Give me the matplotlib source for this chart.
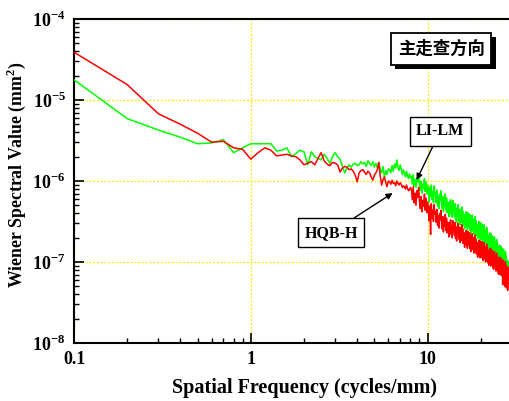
import numpy as np
import matplotlib
matplotlib.use('Agg')
import matplotlib.pyplot as plt
import matplotlib.patheffects as pe
from matplotlib.ticker import FixedLocator, FuncFormatter, LogLocator, NullFormatter

plt.rcParams['font.family'] = ['Liberation Serif', 'DejaVu Serif']
plt.rcParams['mathtext.fontset'] = 'custom'
plt.rcParams['mathtext.rm'] = 'Liberation Serif:bold'
plt.rcParams['mathtext.bf'] = 'Liberation Serif:bold'
plt.rcParams['axes.unicode_minus'] = False

# log10 of Wiener spectral value, sampled every 0.1 cycles/mm starting at 0.1
red_log = [
    -4.41, -4.81, -5.17, -5.30, -5.41, -5.52, -5.51, -5.59, -5.61, -5.73, -5.65, -5.59, -5.62, -5.69,
    -5.68, -5.67, -5.69, -5.70, -5.74, -5.80,
    -5.78, -5.76, -5.80, -5.72, -5.65, -5.75, -5.79, -5.81, -5.77, -5.78,
    -5.80, -5.89, -5.84, -5.82, -5.83, -5.86, -5.85, -5.88, -5.93, -6.01,
    -5.90, -5.87, -5.86, -5.89, -5.92, -5.88, -5.90, -5.95, -5.99, -5.93,
    -5.90, -5.86, -5.77, -5.94, -6.05, -5.98, -5.95, -6.02, -6.07, -6.00,
    -6.01, -6.04, -5.99, -6.03, -6.02, -6.06, -6.00, -6.03, -6.05, -6.02,
    -6.04, -6.08, -6.06, -6.07, -6.10, -6.05, -6.09, -6.12, -6.11, -6.08,
    -6.10, -6.23, -6.07, -6.27, -6.15, -6.30, -6.12, -6.20, -6.08, -6.25,
    -6.34, -6.19, -6.38, -6.24, -6.31, -6.16, -6.36, -6.21, -6.39, -6.26,
    -6.33, -6.49, -6.31, -6.66, -6.28, -6.46, -6.36, -6.50, -6.29, -6.41,
    -6.38, -6.51, -6.35, -6.55, -6.43, -6.58, -6.40, -6.48, -6.36, -6.53,
    -6.59, -6.44, -6.63, -6.49, -6.56, -6.41, -6.61, -6.46, -6.64, -6.51,
    -6.53, -6.69, -6.51, -6.62, -6.48, -6.66, -6.56, -6.70, -6.49, -6.61,
    -6.54, -6.67, -6.51, -6.71, -6.59, -6.74, -6.56, -6.64, -6.52, -6.69,
    -6.72, -6.57, -6.76, -6.62, -6.69, -6.54, -6.74, -6.59, -6.77, -6.64,
    -6.66, -6.82, -6.64, -6.75, -6.61, -6.79, -6.69, -6.83, -6.62, -6.74,
    -6.67, -6.80, -6.64, -6.84, -6.72, -6.87, -6.69, -6.77, -6.65, -6.82,
    -6.85, -6.70, -6.89, -6.75, -6.82, -6.67, -6.87, -6.72, -6.90, -6.77,
    -6.78, -6.94, -6.76, -6.87, -6.73, -6.91, -6.81, -6.95, -6.74, -6.86,
    -6.78, -6.91, -6.75, -6.95, -6.83, -6.98, -6.80, -6.88, -6.76, -6.93,
    -6.96, -6.81, -7.00, -6.86, -6.93, -6.78, -6.98, -6.83, -7.01, -6.88,
    -6.88, -7.04, -6.86, -6.97, -6.83, -7.01, -6.91, -7.05, -6.84, -6.96,
    -6.89, -7.02, -6.86, -7.06, -6.94, -7.09, -6.91, -6.99, -6.87, -7.04,
    -7.07, -6.92, -7.11, -6.97, -7.04, -6.89, -7.09, -6.94, -7.12, -6.99,
    -6.99, -7.15, -6.97, -7.08, -6.94, -7.12, -7.02, -7.16, -6.95, -7.07,
    -7.00, -7.13, -6.97, -7.17, -7.05, -7.28, -7.02, -7.10, -6.98, -7.15,
    -7.18, -7.03, -7.30, -7.08, -7.15, -7.00, -7.20, -7.05, -7.32, -7.10,
    -7.10, -7.26, -7.08, -7.35, -7.06, -7.22, -7.12,
]

green_log = [
    -4.75, -5.23, -5.37, -5.46, -5.54, -5.53, -5.49, -5.65, -5.59, -5.54, -5.54, -5.54, -5.54, -5.63,
    -5.62, -5.59, -5.70, -5.66, -5.62, -5.64,
    -5.80, -5.64, -5.70, -5.72, -5.74, -5.67, -5.72, -5.78, -5.70, -5.65,
    -5.70, -5.73, -5.82, -5.90, -5.84, -5.80, -5.83, -5.79, -5.78, -5.81,
    -5.80, -5.76, -5.79, -5.77, -5.82, -5.75, -5.78, -5.81, -5.76, -5.83,
    -5.78, -5.84, -5.77, -5.86, -5.90, -5.82, -5.96, -5.87, -5.92, -5.85,
    -5.86, -5.90, -5.81, -5.88, -5.79, -5.84, -5.74, -5.83, -5.87, -5.80,
    -5.85, -5.92, -5.86, -5.90, -5.95, -5.88, -5.93, -5.97, -5.91, -5.96,
    -5.94, -6.04, -5.92, -6.06, -5.98, -6.08, -5.96, -6.01, -5.93, -6.05,
    -6.12, -6.00, -6.15, -6.04, -6.09, -5.97, -6.13, -6.01, -6.16, -6.05,
    -6.10, -6.26, -6.08, -6.19, -6.05, -6.23, -6.13, -6.27, -6.06, -6.18,
    -6.14, -6.27, -6.11, -6.31, -6.19, -6.34, -6.16, -6.24, -6.12, -6.29,
    -6.34, -6.19, -6.38, -6.24, -6.31, -6.16, -6.36, -6.21, -6.39, -6.26,
    -6.28, -6.44, -6.26, -6.37, -6.23, -6.41, -6.31, -6.45, -6.24, -6.36,
    -6.31, -6.44, -6.28, -6.48, -6.36, -6.51, -6.33, -6.41, -6.29, -6.46,
    -6.50, -6.35, -6.54, -6.40, -6.47, -6.32, -6.52, -6.37, -6.55, -6.42,
    -6.43, -6.59, -6.41, -6.52, -6.38, -6.56, -6.46, -6.60, -6.39, -6.51,
    -6.44, -6.57, -6.41, -6.61, -6.49, -6.64, -6.46, -6.54, -6.42, -6.59,
    -6.62, -6.47, -6.66, -6.52, -6.59, -6.44, -6.64, -6.49, -6.67, -6.54,
    -6.55, -6.71, -6.53, -6.64, -6.50, -6.68, -6.58, -6.72, -6.51, -6.63,
    -6.56, -6.69, -6.53, -6.73, -6.61, -6.76, -6.58, -6.66, -6.54, -6.71,
    -6.75, -6.60, -6.79, -6.65, -6.72, -6.57, -6.77, -6.62, -6.80, -6.67,
    -6.69, -6.85, -6.67, -6.78, -6.64, -6.82, -6.72, -6.86, -6.65, -6.77,
    -6.71, -6.84, -6.68, -6.88, -6.76, -6.91, -6.73, -6.81, -6.69, -6.86,
    -6.90, -6.75, -6.94, -6.80, -6.87, -6.72, -6.92, -6.77, -6.95, -6.82,
    -6.84, -7.00, -6.82, -6.93, -6.79, -6.97, -6.87, -7.01, -6.80, -6.92,
    -6.86, -6.99, -6.83, -7.03, -6.91, -7.06, -6.88, -6.96, -6.84, -7.01,
    -7.05, -6.90, -7.09, -6.95, -7.02, -6.87, -7.07, -6.92, -7.10, -6.97,
    -6.98, -7.10, -7.00, -7.13, -6.99, -7.08, -7.04,
]

n = min(len(red_log), len(green_log))
freq = np.round(np.arange(1, n + 1) * 0.1, 1)
red = 10 ** np.array(red_log[:n])
green = 10 ** np.array(green_log[:n])

y_ticks = [1e-8, 1e-7, 1e-6, 1e-5, 1e-4]
x_ticks = [0.1, 1, 10]
x_labels = ['0.1', '1', '10']

fig = plt.figure(figsize=(5.09, 4.01), dpi=100)
# the plot frame runs past the right edge of the picture (x axis ends at 40)
ax = fig.add_axes([0.1454, 0.1446, 0.9037, 0.808])

ax.plot(freq, green, color='#00ff00', lw=1.1, zorder=3)
ax.plot(freq, red, color='#ff0000', lw=1.1, zorder=4)

ax.set_xscale('log')
ax.set_yscale('log')
ax.set_xlim(0.1, 40)
ax.set_ylim(1e-8, 1e-4)

ax.xaxis.set_major_locator(FixedLocator(x_ticks))
ax.xaxis.set_major_formatter(FuncFormatter(lambda v, p: x_labels[x_ticks.index(v)] if v in x_ticks else ''))
ax.xaxis.set_minor_locator(LogLocator(base=10, subs=np.arange(2, 10)))
ax.xaxis.set_minor_formatter(NullFormatter())
ax.yaxis.set_major_locator(FixedLocator(y_ticks))
ax.yaxis.set_major_formatter(FuncFormatter(lambda v, p: r'$10^{%d}$' % round(np.log10(v))))
ax.yaxis.set_minor_locator(LogLocator(base=10, subs=np.arange(2, 10)))
ax.yaxis.set_minor_formatter(NullFormatter())

ax.tick_params(which='major', direction='in', length=7, width=1.2, labelsize=13, pad=6)
ax.tick_params(which='minor', direction='in', length=3.5, width=1.0)
ax.tick_params(top=False, right=False)
for lab in ax.get_xticklabels():
    lab.set_fontweight('bold')

for s in ['left', 'bottom', 'top', 'right']:
    ax.spines[s].set_linewidth(1.5)

ax.grid(True, which='major', color='#f0f000', ls=(0, (1.5, 1.5)), lw=0.9, zorder=1)

ax.set_xlabel('Spatial Frequency (cycles/mm)', fontsize=14.5, fontweight='bold')
ax.xaxis.set_label_coords(0.5, -0.108)
ax.set_ylabel(r'Wiener Spectral Value (mm$^{2}$)', fontsize=12.8, fontweight='bold')
ax.yaxis.set_label_coords(-0.10, 0.519)

t = ax.text(0.798, 0.907, '主走查方向', transform=ax.transAxes, ha='center', va='center',
            fontsize=12.5, fontweight='bold', family=['Noto Sans CJK SC', 'DejaVu Sans'],
            bbox=dict(boxstyle='square,pad=0.4', fc='white', ec='black', lw=1.3), zorder=6)
t.get_bbox_patch().set_path_effects([
    pe.SimplePatchShadow(offset=(3, -3), shadow_rgbFace='black', alpha=1.0),
    pe.Normal()])

arrow = dict(arrowstyle='-|>', color='black', lw=1.0, mutation_scale=9, shrinkA=0, shrinkB=0)
ax.annotate('LI-LM', xy=(8.67, 1.03e-6), xytext=(0.796, 0.654), textcoords='axes fraction',
            ha='center', va='center', fontsize=11.5, fontweight='bold',
            bbox=dict(boxstyle='square,pad=0.4', fc='white', ec='black', lw=1.0),
            arrowprops=arrow, zorder=6)
ax.annotate('HQB-H', xy=(6.34, 7.1e-7), xytext=(0.559, 0.340), textcoords='axes fraction',
            ha='center', va='center', fontsize=11.5, fontweight='bold',
            bbox=dict(boxstyle='square,pad=0.4', fc='white', ec='black', lw=1.0),
            arrowprops=arrow, zorder=6)

fig.savefig('out.png', dpi=100)
